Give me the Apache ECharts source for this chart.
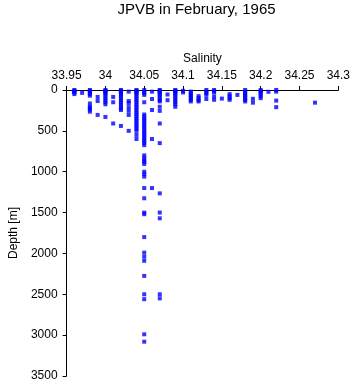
<!DOCTYPE html>
<html>
<head>
<meta charset="utf-8">
<script src="https://cdn.jsdelivr.net/npm/echarts@6/dist/echarts.min.js"></script>
<style>html,body{margin:0;padding:0;background:#fff;}#c{width:353px;height:384px;}</style>
</head>
<body>
<div id="c"></div>
<script>
const titleText = 'JPVB in February, 1965';
const xName = 'Salinity';
const yName = 'Depth [m]';
const xTicks = [33.95, 34, 34.05, 34.1, 34.15, 34.2, 34.25, 34.3];
const yTicks = [0, 500, 1000, 1500, 2000, 2500, 3000, 3500];

// station columns (salinity) and the depths observed at each
const salinityColumns = [33.96, 33.97, 33.98, 33.99, 34.00, 34.01, 34.02, 34.03, 34.04, 34.05,
  34.06, 34.07, 34.08, 34.09, 34.10, 34.11, 34.12, 34.13, 34.14, 34.15, 34.16, 34.17, 34.18,
  34.19, 34.20, 34.21, 34.22, 34.27];
const depthsAt3396 = [0, 10, 20, 30, 50];
const depthsAt3397 = [35];
const depthsAt3398 = [0, 10, 20, 30, 50, 70, 165, 205, 220, 240, 265];
const depthsAt3399 = [85, 135, 305];
const depthsAt3400 = [0, 10, 20, 30, 50, 75, 100, 125, 150, 175, 330];
const depthsAt3401 = [85, 150, 410];
const depthsAt3402 = [0, 10, 20, 30, 50, 75, 100, 125, 150, 175, 200, 225, 245, 440];
const depthsAt3403 = [20, 135, 160, 210, 255, 305, 500];
const depthsAt3404 = [0, 10, 20, 30, 50, 75, 100, 125, 150, 175, 200, 225, 250, 275, 300, 325,
  350, 375, 400, 425, 450, 475, 500, 550, 600];
const depthsAt3405 = [0, 20, 40, 60, 150, 300, 325, 350, 375, 400, 425, 450, 475, 500, 525, 550,
  575, 600, 625, 650, 675, 800, 830, 860, 880, 905, 1000, 1030, 1060, 1200, 1325, 1500, 1520,
  1800, 1990, 2040, 2090, 2275, 2500, 2560, 2990, 3080];
const depthsAt3406 = [20, 110, 245, 600, 1200];
const depthsAt3407 = [0, 10, 20, 30, 50, 75, 100, 125, 140, 205, 255, 410, 650, 1265, 1500, 1570, 2500, 2550];
const depthsAt3408 = [55, 125];
const depthsAt3409 = [0, 10, 20, 30, 50, 75, 100, 125, 150, 175, 205];
const depthsAt3410 = [10, 30];
const depthsAt3411 = [20, 40, 60, 80, 100, 120, 140];
const depthsAt3412 = [75, 100, 125, 140];
const depthsAt3413 = [0, 20, 40, 60, 110];
const depthsAt3414 = [0, 15, 30, 80, 120];
const depthsAt3415 = [105];
const depthsAt3416 = [50, 75, 100, 120];
const depthsAt3417 = [60];
const depthsAt3418 = [0, 20, 40, 60, 80, 100, 120, 140];
const depthsAt3419 = [108, 155];
const depthsAt3420 = [0, 15, 30, 50, 75, 100];
const depthsAt3421 = [22];
const depthsAt3422 = [0, 20, 130, 210];
const depthsAt3427 = [155];

const depthLists = [depthsAt3396, depthsAt3397, depthsAt3398, depthsAt3399, depthsAt3400, depthsAt3401,
  depthsAt3402, depthsAt3403, depthsAt3404, depthsAt3405, depthsAt3406, depthsAt3407, depthsAt3408,
  depthsAt3409, depthsAt3410, depthsAt3411, depthsAt3412, depthsAt3413, depthsAt3414, depthsAt3415,
  depthsAt3416, depthsAt3417, depthsAt3418, depthsAt3419, depthsAt3420, depthsAt3421, depthsAt3422,
  depthsAt3427];

const points = [];
salinityColumns.forEach((s, i) => depthLists[i].forEach(d => points.push([s, d])));

const FONT = 'Liberation Sans';
const chart = echarts.init(document.getElementById('c'), null, {renderer: 'canvas'});
chart.setOption({
  animation: false,
  backgroundColor: '#fff',
  title: {
    text: titleText, left: 196.5, textAlign: 'center', top: 2, padding: 0,
    textStyle: {fontFamily: FONT, fontSize: 15, fontWeight: 'normal', color: '#000'}
  },
  grid: {left: 53, top: 90, width: 286, height: 286, containLabel: false},
  xAxis: {
    type: 'value', position: 'top', min: xTicks[0], max: xTicks[xTicks.length - 1], interval: 0.05,
    name: xName, nameLocation: 'middle', nameGap: 19,
    nameTextStyle: {fontFamily: FONT, fontSize: 12, color: '#000'},
    axisLine: {show: true, onZero: false, lineStyle: {color: '#000', width: 1}},
    axisTick: {show: true, inside: false, length: 4, lineStyle: {color: '#000'}},
    splitLine: {show: false},
    axisLabel: {
      fontFamily: FONT, fontSize: 12, color: '#000', margin: 8,
      showMinLabel: true, showMaxLabel: true,
      formatter: v => String(parseFloat(v.toFixed(2)))
    }
  },
  yAxis: {
    type: 'value', inverse: true, min: yTicks[0], max: yTicks[yTicks.length - 1], interval: 500,
    name: yName, nameLocation: 'middle', nameGap: 45, nameRotate: 90,
    nameTextStyle: {fontFamily: FONT, fontSize: 12, color: '#000'},
    axisLine: {show: true, onZero: false, lineStyle: {color: '#000', width: 1}},
    axisTick: {show: true, inside: false, length: 4, lineStyle: {color: '#000'}},
    splitLine: {show: false},
    axisLabel: {fontFamily: FONT, fontSize: 12, color: '#000', margin: 9, formatter: v => String(v)}
  },
  series: [{
    type: 'scatter', data: points, symbol: 'rect', symbolSize: 4,
    itemStyle: {color: '#0000ff'}, silent: true
  }]
});
</script>
</body>
</html>
